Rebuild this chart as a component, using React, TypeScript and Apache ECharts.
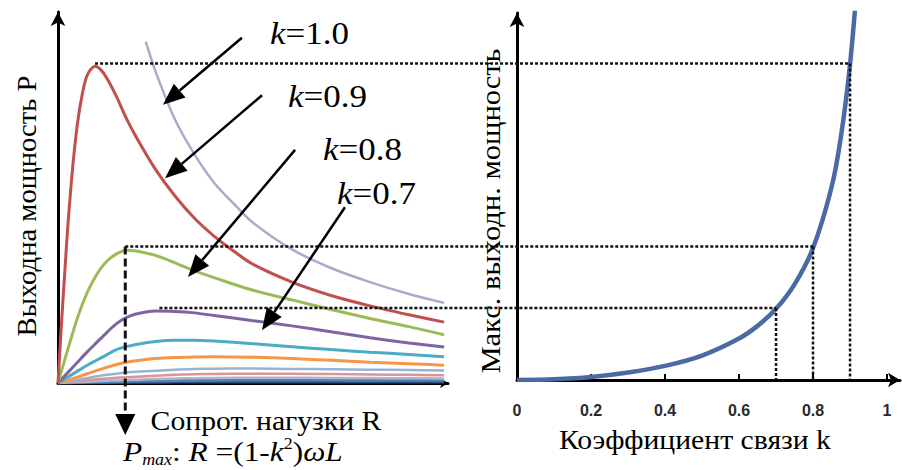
import React, { useEffect, useRef } from "react";
import * as echarts from "echarts";

// ---- Left chart: output power P vs load resistance R (R in units of ωL) ----
const loadR = [0, 0.05, 0.1, 0.15, 0.2, 0.25, 0.3, 0.35, 0.4, 0.5, 0.6, 0.7, 0.8, 1.0, 1.2, 1.4, 1.6, 1.8, 1.98];

const loadR_k10 = [0.45, 0.5, 0.6, 0.7, 0.8, 0.9, 1.0, 1.2, 1.4, 1.6, 1.8, 1.98];
const power_k10 = [4.6, 4.2, 3.55, 3.08, 2.7, 2.42, 2.16, 1.8, 1.55, 1.36, 1.2, 1.08];

const loadR_k09 = [0, 0.01, 0.02, 0.035, 0.05, 0.075, 0.1, 0.125, 0.15, 0.19, 0.22, 0.25, 0.3, 0.35, 0.4, 0.5, 0.6, 0.7, 0.8, 0.9, 1.0, 1.2, 1.4, 1.6, 1.8, 1.98];
const power_k09 = [0, 0.45, 0.89, 1.5, 2.1, 2.9, 3.5, 3.9, 4.15, 4.27, 4.22, 4.11, 3.86, 3.57, 3.32, 2.88, 2.52, 2.22, 1.98, 1.78, 1.6, 1.36, 1.18, 1.04, 0.92, 0.82];

const power_k08 = [0, 0.45, 0.88, 1.22, 1.47, 1.64, 1.74, 1.79, 1.78, 1.72, 1.62, 1.51, 1.42, 1.25, 1.12, 0.99, 0.87, 0.76, 0.65];
const power_k07 = [0, 0.14, 0.28, 0.42, 0.55, 0.68, 0.8, 0.88, 0.93, 0.97, 0.965, 0.945, 0.91, 0.84, 0.77, 0.69, 0.61, 0.54, 0.485];
const power_k06 = [0, 0.08, 0.16, 0.24, 0.31, 0.38, 0.45, 0.49, 0.52, 0.56, 0.575, 0.575, 0.565, 0.53, 0.49, 0.45, 0.415, 0.385, 0.355];
const power_k05 = [0, 0.04, 0.08, 0.125, 0.17, 0.21, 0.25, 0.28, 0.3, 0.33, 0.345, 0.352, 0.355, 0.348, 0.33, 0.305, 0.28, 0.26, 0.24];
const power_k04 = [0, 0.02, 0.045, 0.065, 0.09, 0.11, 0.125, 0.14, 0.15, 0.165, 0.18, 0.188, 0.193, 0.195, 0.19, 0.186, 0.18, 0.175, 0.17];
const power_k03 = [0, 0.012, 0.025, 0.037, 0.05, 0.06, 0.07, 0.078, 0.085, 0.098, 0.11, 0.117, 0.122, 0.126, 0.125, 0.12, 0.115, 0.11, 0.105];
const power_k02 = [0, 0.006, 0.012, 0.018, 0.024, 0.03, 0.035, 0.04, 0.045, 0.053, 0.06, 0.065, 0.068, 0.071, 0.071, 0.069, 0.067, 0.064, 0.062];
const power_k015 = [0, 0.003, 0.006, 0.009, 0.012, 0.015, 0.018, 0.021, 0.024, 0.028, 0.032, 0.035, 0.037, 0.04, 0.04, 0.039, 0.038, 0.037, 0.036];
const power_k01 = [0, 0.001, 0.003, 0.004, 0.005, 0.006, 0.007, 0.008, 0.009, 0.011, 0.012, 0.013, 0.014, 0.015, 0.015, 0.015, 0.015, 0.014, 0.014];

// ---- Right chart: maximum output power vs coupling coefficient k ----
const couplingK = [0, 0.1, 0.2, 0.3, 0.4, 0.5, 0.6, 0.65, 0.7, 0.75, 0.8, 0.85, 0.875, 0.9, 0.92];
const maxPower = [0, 0.01, 0.04, 0.1, 0.19, 0.33, 0.56, 0.73, 0.96, 1.29, 1.78, 2.6, 3.27, 4.26, 5.4];
const kTicks = [0, 0.2, 0.4, 0.6, 0.8, 1];

// ---- Marked maxima (k = 0.9, 0.8, 0.7) ----
const markK = [0.9, 0.8, 0.7];
const markPeakR = [0.19, 0.345, 0.52];
const markPmax = [4.27, 1.8, 0.97];

// ---- Labels ----
const kLabels = ["1.0", "0.9", "0.8", "0.7"];
// arrow tips lie on curves (R, P) in left chart data space
const arrowTipR = [0.538, 0.549, 0.667, 1.046];
const arrowTipP = [3.75, 2.76, 1.43, 0.71];

const zip = (xs: number[], ys: number[]) => xs.map((x, i) => [x, ys[i]]);

const SERIF = "Liberation Serif";

const curves = [
  { name: "k=0.1", x: loadR, y: power_k01, color: "#2c4d75", w: 3 },
  { name: "k=0.15", x: loadR, y: power_k015, color: "#4f81bd", w: 3 },
  { name: "k=0.2", x: loadR, y: power_k02, color: "#b4b4c8", w: 2.5 },
  { name: "k=0.3", x: loadR, y: power_k03, color: "#d99694", w: 2.5 },
  { name: "k=0.4", x: loadR, y: power_k04, color: "#95b3d7", w: 2.5 },
  { name: "k=0.5", x: loadR, y: power_k05, color: "#f79646", w: 3 },
  { name: "k=0.6", x: loadR, y: power_k06, color: "#4bacc6", w: 3 },
  { name: "k=0.7", x: loadR, y: power_k07, color: "#8064a2", w: 3 },
  { name: "k=0.8", x: loadR, y: power_k08, color: "#9bbb59", w: 3 },
  { name: "k=1.0", x: loadR_k10, y: power_k10, color: "#aaaacc", w: 2.5 },
  { name: "k=0.9", x: loadR_k09, y: power_k09, color: "#c0504d", w: 3 },
];

export default function App() {
  const ref = useRef<HTMLDivElement>(null);
  useEffect(() => {
    const chart = echarts.init(ref.current!, null, { renderer: "svg" });
    const axisLineStyle = { color: "#000", width: 3 };
    chart.setOption({
      animation: false,
      backgroundColor: "#fff",
      grid: [
        { left: 58, top: 12, width: 390, height: 371 },
        { left: 517, top: 13, width: 383, height: 367 },
      ],
      xAxis: [
        {
          gridIndex: 0, type: "value", min: 0, max: 2,
          axisLine: { show: true, lineStyle: axisLineStyle, symbol: ["none", "arrow"], symbolSize: [8, 8] },
          axisTick: { show: false }, axisLabel: { show: false }, splitLine: { show: false },
        },
        {
          gridIndex: 1, type: "value", min: 0, max: 1.035,
          axisLine: { show: true, lineStyle: axisLineStyle, symbol: ["none", "arrow"], symbolSize: [11, 12] },
          axisTick: { show: true, inside: true, length: 6, lineStyle: { color: "#000", width: 2 }, customValues: kTicks },
          axisLabel: {
            show: true, customValues: kTicks, color: "#2a2a2a", fontWeight: "bold", fontSize: 16,
            fontFamily: "Liberation Sans", margin: 22,
          },
          splitLine: { show: false },
        },
      ],
      yAxis: [
        {
          gridIndex: 0, type: "value", min: 0, max: 5,
          axisLine: { show: true, lineStyle: axisLineStyle, symbol: ["none", "arrow"], symbolSize: [11, 14] },
          axisTick: { show: false }, axisLabel: { show: false }, splitLine: { show: false },
        },
        {
          gridIndex: 1, type: "value", min: 0, max: 4.95,
          axisLine: { show: true, lineStyle: axisLineStyle, symbol: ["none", "arrow"], symbolSize: [11, 14] },
          axisTick: { show: false }, axisLabel: { show: false }, splitLine: { show: false },
        },
      ],
      series: [
        ...curves.map((c) => ({
          name: c.name, type: "line", xAxisIndex: 0, yAxisIndex: 0,
          data: zip(c.x, c.y), showSymbol: false, smooth: 0.3,
          lineStyle: { color: c.color, width: c.w }, silent: true,
        })),
        {
          name: "Pmax", type: "line", xAxisIndex: 1, yAxisIndex: 1,
          data: zip(couplingK, maxPower), showSymbol: false, smooth: 0.3,
          lineStyle: { color: "#4a6aa5", width: 4.5 }, silent: true,
        },
      ],
    });

    const L = (x: number, y: number) => chart.convertToPixel({ gridIndex: 0 } as any, [x, y]) as number[];
    const RP = (x: number, y: number) => chart.convertToPixel({ gridIndex: 1 } as any, [x, y]) as number[];

    const els: any[] = [];
    const dot = { stroke: "#111", lineWidth: 2.5, lineDash: [3, 2] };

    // horizontal dotted lines joining each curve's maximum to the Pmax(k) curve
    markK.forEach((k, i) => {
      const a = L(markPeakR[i], markPmax[i]);
      const b = RP(k, markPmax[i]);
      els.push({ type: "line", shape: { x1: a[0], y1: b[1], x2: b[0], y2: b[1] }, style: dot, z: 10 });
      const c = RP(k, 0);
      els.push({ type: "line", shape: { x1: b[0], y1: b[1], x2: c[0], y2: c[1] }, style: dot, z: 10 });
    });

    // vertical dashed arrow at the k=0.8 optimum
    const g = L(markPeakR[1], markPmax[1]);
    const g0 = L(markPeakR[1], 0);
    const gy = RP(markK[1], markPmax[1])[1];
    els.push({ type: "line", shape: { x1: g[0], y1: gy, x2: g[0], y2: g0[1] + 32 }, style: { stroke: "#111", lineWidth: 3, lineDash: [8, 4] }, z: 11 });
    els.push({ type: "polygon", shape: { points: [[g[0] - 10, g0[1] + 31], [g[0] + 10, g0[1] + 31], [g[0], g0[1] + 52]] }, style: { fill: "#000" }, z: 11 });

    // arrows from labels to curves
    const tailOffsets = [[79, -67], [97, -83], [107, -127], [83, -123]];
    arrowTipR.forEach((r, i) => {
      const tip = L(r, arrowTipP[i]);
      const tail = [tip[0] + tailOffsets[i][0], tip[1] + tailOffsets[i][1]];
      const dx = tip[0] - tail[0], dy = tip[1] - tail[1];
      const len = Math.hypot(dx, dy);
      const ux = dx / len, uy = dy / len;
      const hl = 22, hw = 9;
      const bx = tip[0] - ux * hl, by = tip[1] - uy * hl;
      els.push({ type: "line", shape: { x1: tail[0], y1: tail[1], x2: bx, y2: by }, style: { stroke: "#000", lineWidth: 2.5 }, z: 12 });
      els.push({
        type: "polygon",
        shape: { points: [[tip[0], tip[1]], [bx - uy * hw, by + ux * hw], [bx + uy * hw, by - ux * hw]] },
        style: { fill: "#000" }, z: 12,
      });
    });

    // k labels
    const labelPos = [[270, 34], [288, 97], [323, 150], [337, 194]];
    kLabels.forEach((t, i) => {
      els.push({
        type: "text", x: labelPos[i][0], y: labelPos[i][1], scaleX: 1.13, z: 13,
        style: {
          text: `{i|k}{n|=${t}}`, align: "left", verticalAlign: "middle",
          rich: {
            i: { fontFamily: SERIF, fontStyle: "italic", fontSize: 31, fill: "#000" },
            n: { fontFamily: SERIF, fontSize: 31, fill: "#000" },
          },
        },
      });
    });

    const title = (text: string, x: number, y: number, size: number, sx: number, rot = 0) => ({
      type: "text", x, y, rotation: rot, scaleX: sx, z: 13,
      style: {
        text, fontFamily: SERIF, fontSize: size, fill: "#000",
        align: "center", verticalAlign: "middle",
      },
    });
    els.push(title("Выходна мощность P", 27, 206, 27, 1.06, Math.PI / 2));
    els.push(title("Сопрот. нагузки R", 266, 421, 27, 1.1));
    els.push(title("Макс. выходн. мощность", 491, 211, 27, 1.13, Math.PI / 2));
    els.push(title("Коэффициент связи k", 695, 440, 27, 1.1));

    // formula
    els.push({
      type: "text", x: 123, y: 452, scaleX: 1.12, z: 13,
      style: {
        text: "{p|P}{s|max}{n|: }{p|R}{n| =(1-}{p|k}{u|2}{n|)}{p|ωL}",
        align: "left", verticalAlign: "middle",
        rich: {
          p: { fontFamily: SERIF, fontStyle: "italic", fontSize: 28, lineHeight: 32, fill: "#000" },
          n: { fontFamily: SERIF, fontSize: 28, lineHeight: 32, fill: "#000" },
          s: { fontFamily: SERIF, fontStyle: "italic", fontSize: 16, lineHeight: 16, verticalAlign: "bottom", fill: "#000" },
          u: { fontFamily: SERIF, fontSize: 16, lineHeight: 16, verticalAlign: "top", fill: "#000" },
        },
      },
    });

    chart.setOption({ graphic: els });
    return () => chart.dispose();
  }, []);
  return <div ref={ref} style={{ position: "absolute", left: 0, top: 0, width: 902, height: 470 }} />;
}
